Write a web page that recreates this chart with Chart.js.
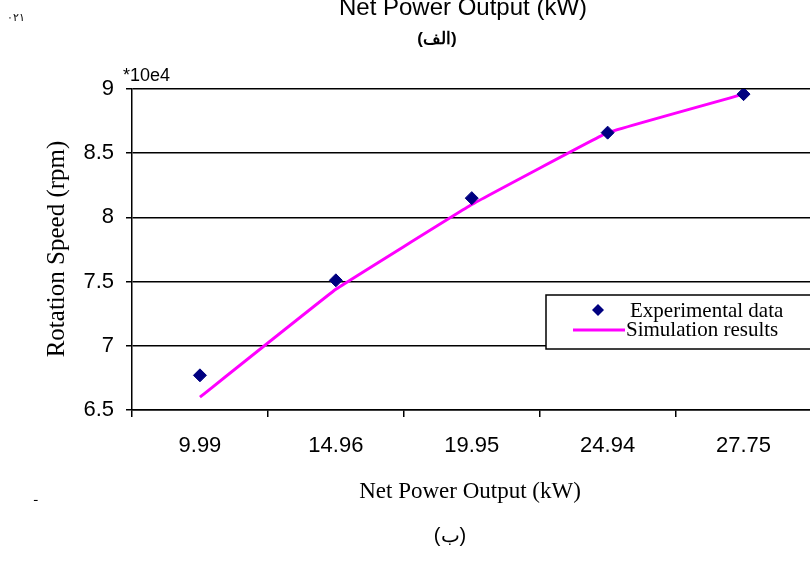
<!DOCTYPE html>
<html>
<head>
<meta charset="utf-8">
<script src="https://cdn.jsdelivr.net/npm/chart.js@4"></script>
<style>
  html, body { margin: 0; padding: 0; background: #fff; overflow: hidden; }
  #wrap { width: 810px; height: 563px; position: relative; overflow: hidden; }
</style>
</head>
<body>
<!-- canvas is a little wider than the window: the plot runs off the right edge in the scan -->
<div id="wrap"><canvas id="speedChart" width="819" height="563"></canvas></div>
<script>
// Rotation speed vs net power output (values in units of 10e4 rpm)
const powerLabels = ['9.99', '14.96', '19.95', '24.94', '27.75'];
const experimentalData = [6.77, 7.51, 8.15, 8.66, 8.96];
const simulationData = [6.60, 7.44, 8.10, 8.66, 8.96];
const yTicks = [6.5, 7, 7.5, 8, 8.5, 9];

const SERIF = '"Liberation Serif", "Times New Roman", serif';
const SANS = '"Liberation Sans", Arial, sans-serif';

// Draws the titles, the scale note and the framed legend
const annotations = {
    id: 'annotations',
    afterDraw(chart) {
        const ctx = chart.ctx;
        ctx.save();
        ctx.fillStyle = '#000';
        ctx.textBaseline = 'alphabetic';

        // top caption (cut off at the top edge, as in the scan)
        ctx.textAlign = 'center';
        ctx.font = '24px ' + SANS;
        ctx.fillText('Net Power Output (kW)', 463, 15);
        ctx.font = 'bold 17px ' + SANS;
        ctx.fillText('(الف)', 437, 44);

        ctx.textAlign = 'left';
        ctx.font = '11px ' + SANS;
        ctx.fillText('٠٢١', 7, 21);
        ctx.font = '12px ' + SANS;
        ctx.fillText('ـ', 34, 501);

        // scale note
        ctx.font = '18px ' + SANS;
        ctx.fillText('*10e4', 123, 81);

        // axis titles
        ctx.textAlign = 'center';
        ctx.font = '23px ' + SERIF;
        ctx.fillText('Net Power Output (kW)', 470, 498);
        ctx.font = '20px ' + SANS;
        ctx.fillText('(ب)', 450, 542);

        ctx.save();
        ctx.translate(64, 249);
        ctx.rotate(-Math.PI / 2);
        ctx.font = '25px ' + SERIF;
        ctx.fillText('Rotation Speed (rpm)', 0, 0);
        ctx.restore();

        // legend box
        const lx = 546, ly = 295, lw = 266, lh = 54;
        ctx.fillStyle = '#fff';
        ctx.fillRect(lx, ly, lw, lh);
        ctx.strokeStyle = '#000';
        ctx.lineWidth = 1.5;
        ctx.strokeRect(lx, ly, lw, lh);

        ctx.fillStyle = '#000080';
        ctx.beginPath();
        ctx.moveTo(598, 304);
        ctx.lineTo(604, 310);
        ctx.lineTo(598, 316);
        ctx.lineTo(592, 310);
        ctx.closePath();
        ctx.fill();

        ctx.strokeStyle = '#ff00ff';
        ctx.lineWidth = 3;
        ctx.beginPath();
        ctx.moveTo(573, 330);
        ctx.lineTo(625, 330);
        ctx.stroke();

        ctx.fillStyle = '#000';
        ctx.textAlign = 'left';
        ctx.textBaseline = 'middle';
        ctx.font = '21px ' + SERIF;
        ctx.fillText('Experimental data', 630, 311);
        ctx.fillText('Simulation results', 626, 330);
        ctx.restore();
    }
};

new Chart(document.getElementById('speedChart'), {
    type: 'line',
    data: {
        labels: powerLabels,
        datasets: [
            {
                label: 'Experimental data',
                data: experimentalData,
                showLine: false,
                pointStyle: 'rectRot',
                pointRadius: 6.5,
                pointBackgroundColor: '#000080',
                pointBorderColor: '#000080',
                order: 0
            },
            {
                label: 'Simulation results',
                data: simulationData,
                borderColor: '#ff00ff',
                borderWidth: 3,
                pointRadius: 0,
                tension: 0.05,
                fill: false,
                order: 1
            }
        ]
    },
    options: {
        responsive: false,
        animation: false,
        layout: { padding: { top: 89, right: 0, left: 0, bottom: 0 } },
        plugins: { legend: { display: false }, tooltip: { enabled: false } },
        scales: {
            x: {
                offset: true,
                grid: { offset: true, drawOnChartArea: false, drawTicks: true, tickLength: 7, color: '#000', lineWidth: 1.5 },
                border: { color: '#000', width: 1.5 },
                ticks: { color: '#000', padding: 16, font: { family: SANS, size: 22 }, maxRotation: 0 },
                afterFit(scale) {
                    scale.height = 153;
                    scale.paddingLeft = 0;
                    scale.paddingRight = 0;
                }
            },
            y: {
                min: 6.5,
                max: 9,
                afterBuildTicks(scale) { scale.ticks = yTicks.map(v => ({ value: v })); },
                grid: { color: '#000', lineWidth: 1.5, tickLength: 6 },
                border: { color: '#000', width: 1.5 },
                ticks: {
                    color: '#000',
                    padding: 12,
                    font: { family: SANS, size: 22 },
                    callback: v => String(v)
                },
                afterFit(scale) {
                    scale.width = 132;
                    scale.paddingTop = 0;
                    scale.paddingBottom = 0;
                }
            }
        }
    },
    plugins: [annotations]
});
</script>
</body>
</html>
